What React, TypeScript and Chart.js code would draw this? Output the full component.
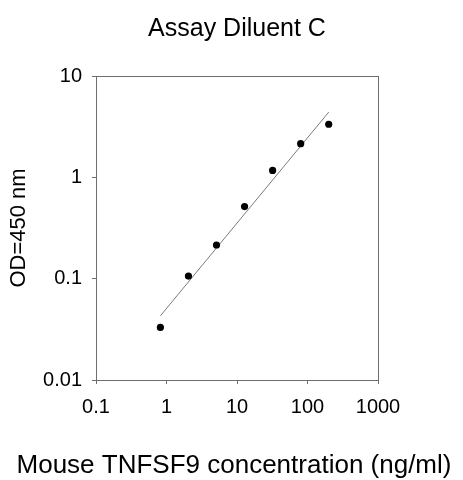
import React, { useEffect, useRef } from "react";
import { Chart, registerables } from "chart.js";

Chart.register(...registerables);

const chartTitle = "Assay Diluent C";
const xAxisTitle = "Mouse TNFSF9 concentration (ng/ml)";
const yAxisTitle = "OD=450 nm";

const concentration = [0.8192, 2.048, 5.12, 12.8, 32, 80, 200];
const od450 = [0.033, 0.106, 0.215, 0.514, 1.17, 2.15, 3.34];

const fitX = [0.82, 200];
const fitY = [0.043, 4.4];

const xTickValues = [0.1, 1, 10, 100, 1000];
const xTickLabels = ["0.1", "1", "10", "100", "1000"];
const yTickValues = [0.01, 0.1, 1, 10];
const yTickLabels = ["0.01", "0.1", "1", "10"];

const FONT = "'Liberation Sans', Arial, sans-serif";
const AXIS_COLOR = "#6e6e6e";

const framePlugin = {
  id: "frame",
  afterDatasetsDraw(chart: any) {
    const { ctx, chartArea } = chart;
    ctx.save();
    ctx.strokeStyle = AXIS_COLOR;
    ctx.lineWidth = 1;
    ctx.beginPath();
    ctx.moveTo(chartArea.left, chartArea.top + 0.5);
    ctx.lineTo(chartArea.right, chartArea.top + 0.5);
    ctx.moveTo(chartArea.right + 0.5, chartArea.top);
    ctx.lineTo(chartArea.right + 0.5, chartArea.bottom);
    ctx.stroke();
    ctx.restore();
  },
};

const xTitlePlugin = {
  id: "xTitle",
  afterDraw(chart: any) {
    const { ctx, chartArea } = chart;
    ctx.save();
    ctx.fillStyle = "#000000";
    ctx.font = `26px ${FONT}`;
    ctx.textAlign = "center";
    ctx.textBaseline = "alphabetic";
    ctx.fillText(xAxisTitle, (chartArea.left + chartArea.right) / 2 - 3, 473);
    ctx.restore();
  },
};

export default function App() {
  const canvasRef = useRef<HTMLCanvasElement | null>(null);

  useEffect(() => {
    if (!canvasRef.current) return;
    const chart = new Chart(canvasRef.current, {
      type: "scatter",
      data: {
        datasets: [
          {
            label: "points",
            data: concentration.map((x, i) => ({ x, y: od450[i] })),
            backgroundColor: "#000000",
            borderColor: "#000000",
            pointRadius: 3.6,
            pointHoverRadius: 3.6,
            borderWidth: 0,
            order: 0,
          },
          {
            label: "fit",
            data: fitX.map((x, i) => ({ x, y: fitY[i] })),
            showLine: true,
            borderColor: "#7a7a7a",
            borderWidth: 1,
            pointRadius: 0,
            fill: false,
            order: 1,
          },
        ],
      },
      options: {
        responsive: false,
        animation: false,
        events: [],
        layout: { padding: { left: 0, right: 85, top: 0, bottom: 0 } },
        plugins: {
          legend: { display: false },
          tooltip: { enabled: false },
          title: {
            display: true,
            text: chartTitle,
            fullSize: false,
            color: "#000000",
            font: { family: FONT, size: 25, weight: "normal" },
            padding: { top: 14, bottom: 32 },
          },
        },
        scales: {
          x: {
            type: "logarithmic",
            position: "bottom",
            min: 0.1,
            max: 1000,
            afterBuildTicks: (scale: any) => {
              scale.ticks = xTickValues.map((v) => ({ value: v }));
            },
            afterFit: (scale: any) => {
              scale.height = 100;
            },
            ticks: {
              autoSkip: false,
              maxRotation: 0,
              padding: 11,
              color: "#000000",
              font: { family: FONT, size: 20 },
              callback: (v: any) => {
                const i = xTickValues.indexOf(Number(v));
                return i >= 0 ? xTickLabels[i] : "";
              },
            },
            grid: {
              drawOnChartArea: false,
              drawTicks: true,
              tickLength: 4,
              color: AXIS_COLOR,
            },
            border: { display: true, color: AXIS_COLOR, width: 1 },
            title: { display: false },
          },
          y: {
            type: "logarithmic",
            position: "left",
            min: 0.01,
            max: 10,
            afterBuildTicks: (scale: any) => {
              scale.ticks = yTickValues.map((v) => ({ value: v }));
            },
            afterFit: (scale: any) => {
              scale.width = 96;
            },
            ticks: {
              autoSkip: false,
              padding: 10,
              color: "#000000",
              font: { family: FONT, size: 20 },
              callback: (v: any) => {
                const i = yTickValues.indexOf(Number(v));
                return i >= 0 ? yTickLabels[i] : "";
              },
            },
            grid: {
              drawOnChartArea: false,
              drawTicks: true,
              tickLength: 4,
              color: AXIS_COLOR,
            },
            border: { display: true, color: AXIS_COLOR, width: 1 },
            title: {
              display: true,
              text: yAxisTitle,
              color: "#000000",
              font: { family: FONT, size: 22 },
              padding: { top: 6, bottom: 0 },
            },
          },
        },
      },
      plugins: [framePlugin, xTitlePlugin],
    } as any);
    return () => chart.destroy();
  }, []);

  return (
    <div style={{ position: "absolute", left: 0, top: 0, width: 463, height: 480, background: "#ffffff" }}>
      <canvas ref={canvasRef} width={463} height={480} style={{ display: "block" }} />
    </div>
  );
}
